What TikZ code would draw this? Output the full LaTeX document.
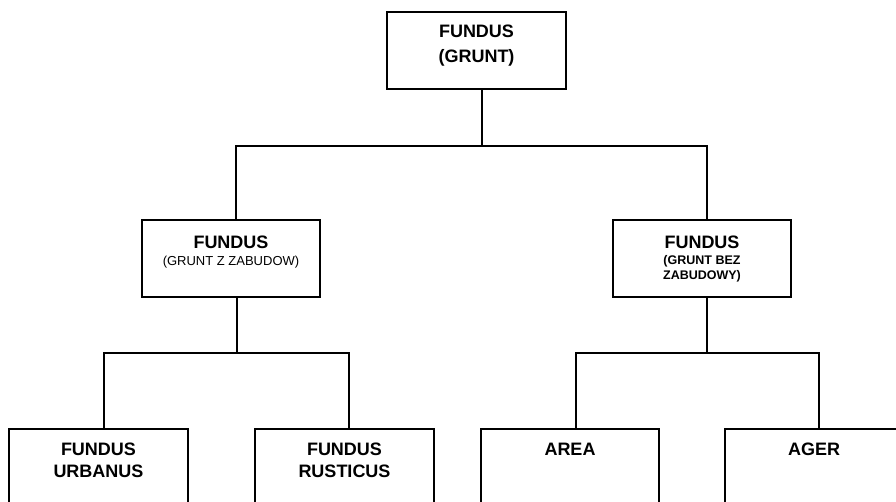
\documentclass[tikz,border=0pt]{standalone}
\usepackage{fontspec}
\setmainfont{Liberation Sans}
\tikzset{
  box/.style={draw, line width=1.8pt, inner sep=0pt, outer sep=0pt, rectangle},
  conn/.style={line width=1.8pt, line join=miter},
}
\newcommand{\boxtext}[4]{\parbox[c][#2][t]{#1}{\centering\vspace*{#3}#4\par}}
\newcommand{\bigb}{\fontsize{18}{25}\selectfont\bfseries}
\begin{document}
\begin{tikzpicture}[x=1pt, y=-1pt]
\useasboundingbox (0,0) rectangle (896,501);
\clip (0,0) rectangle (896,501);
\node[box] (top) at (476.5,50.5) {\boxtext{179pt}{77pt}{13pt}{\bigb FUNDUS\\(GRUNT)}};
\node[box] (ml) at (231,258.5) {\boxtext{178pt}{77pt}{16pt}{\bigb FUNDUS\\\fontsize{13}{17}\selectfont\mdseries (GRUNT Z ZABUDOW)}};
\node[box] (mr) at (702,258.5) {\boxtext{178pt}{77pt}{16pt}{\bigb FUNDUS\\\fontsize{12.5}{15.5}\selectfont (GRUNT BEZ\\ZABUDOWY)}};
\node[box] (u) at (98.5,484) {\boxtext{179pt}{110pt}{14pt}{\fontsize{18}{22}\selectfont\bfseries FUNDUS\\URBANUS}};
\node[box] (r) at (344.5,484) {\boxtext{179pt}{110pt}{14pt}{\fontsize{18}{22}\selectfont\bfseries FUNDUS\\RUSTICUS}};
\node[box] (a) at (570,484) {\boxtext{178pt}{110pt}{14pt}{\fontsize{18}{22}\selectfont\bfseries AREA}};
\node[box] (g) at (814,484) {\boxtext{178pt}{110pt}{14pt}{\fontsize{18}{22}\selectfont\bfseries AGER}};
\coordinate (t0) at (482,146);
\coordinate (tL) at (236,146);
\coordinate (tR) at (707,146);
\coordinate (l0) at (237,353);
\coordinate (l1) at (104,353);
\coordinate (l2) at (349,353);
\coordinate (r0) at (707,353);
\coordinate (r1) at (576,353);
\coordinate (r2) at (819,353);
\draw[conn] (top.south -| t0) -- (t0);
\draw[conn] (ml.north -| tL) -- (tL) -- (tR) -- (mr.north -| tR);
\draw[conn] (ml.south -| l0) -- (l0);
\draw[conn] (u.north -| l1) -- (l1) -- (l2) -- (r.north -| l2);
\draw[conn] (mr.south -| r0) -- (r0);
\draw[conn] (a.north -| r1) -- (r1) -- (r2) -- (g.north -| r2);
\end{tikzpicture}
\end{document}
